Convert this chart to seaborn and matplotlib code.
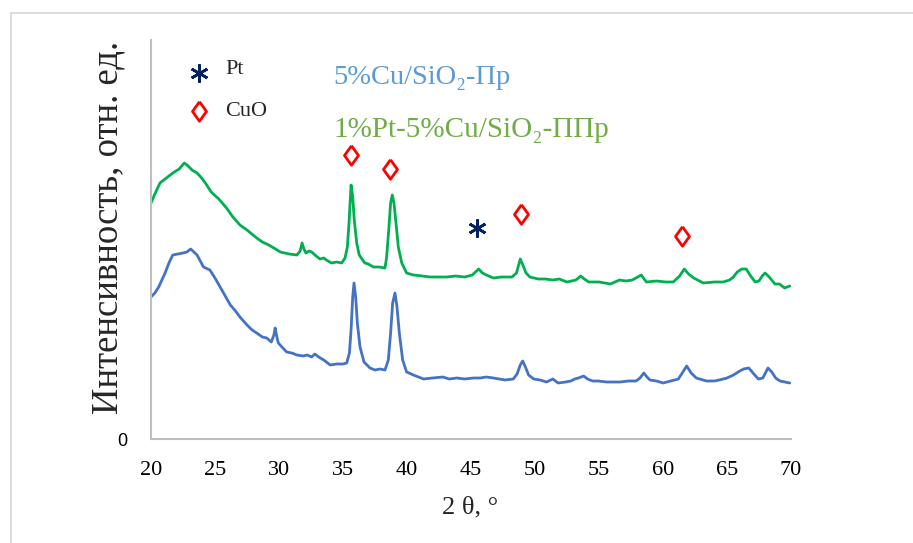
import matplotlib
matplotlib.use("Agg")
import matplotlib.pyplot as plt
import seaborn as sns
import pandas as pd
from matplotlib.patches import Rectangle
from matplotlib.lines import Line2D

# XRD pattern of 1%Pt-5%Cu/SiO2-ППр (upper curve)
two_theta_pt_cu = [
    20.0, 20.3, 20.7, 21.2, 21.7, 22.2, 22.6, 22.9, 23.2, 23.6, 23.96, 24.3, 24.7,
    25.3, 25.9, 26.4, 26.95, 27.5, 28.26, 28.7, 29.2, 29.6, 30.1, 30.8, 31.4,
    31.65, 31.8, 31.95, 32.1, 32.35, 32.55, 32.9, 33.2, 33.5, 33.7, 34.1, 34.5,
    34.9, 35.16, 35.34, 35.47, 35.63, 35.76, 35.88, 36.07, 36.27, 36.54, 36.7,
    36.98, 37.37, 37.8, 38.28, 38.41, 38.59, 38.72, 38.85, 38.98, 39.14, 39.32,
    39.59, 39.97, 40.5, 41.2, 41.8, 42.5, 43.1, 43.8, 44.5, 45.1, 45.6, 45.9,
    46.2, 46.75, 47.4, 48.2, 48.55, 48.85, 49.05, 49.3, 49.6, 50.25, 50.8, 51.4,
    51.9, 52.5, 53.2, 53.57, 53.85, 54.2, 55.0, 55.9, 56.6, 57.1, 57.6, 58.3,
    58.7, 59.5, 60.2, 60.8, 61.3, 61.66, 62.0, 62.4, 63.15, 64.0, 64.7, 65.2,
    65.5, 65.8, 66.15, 66.5, 66.85, 67.2, 67.5, 67.75, 67.97, 68.3, 68.75, 69.1,
    69.5, 69.9,
]
intensity_pt_cu = [
    236, 245, 256, 261, 266, 270, 276, 273, 269, 266, 261, 255, 247,
    240, 231, 222, 214, 209, 201, 197, 194, 191, 187, 185, 184,
    188, 196, 190, 186, 188, 187, 183, 180, 181, 179, 176, 177,
    176, 181, 192, 216, 254, 242, 219, 196, 184, 179, 176,
    175, 172, 172, 171, 182, 212, 236, 244, 236, 216, 192,
    176, 166, 164, 163, 162, 162, 162, 163, 162, 164, 170, 166,
    164, 161, 162, 162, 166, 180, 174, 166, 162, 160, 160, 159,
    160, 157, 159, 163, 160, 157, 157, 155, 159, 158, 159, 164,
    157, 158, 157, 157, 163, 170, 165, 161, 156, 157, 157, 159,
    162, 167, 170, 170, 163, 157, 158, 163, 166, 162, 155, 155,
    151, 153,
]

# XRD pattern of 5%Cu/SiO2-Пр (lower curve)
two_theta_cu = [
    20.0, 20.3, 20.6, 21.1, 21.4, 21.7, 22.1, 22.5, 22.8, 23.1, 23.35, 23.6, 24.1,
    24.6, 25.0, 25.4, 25.8, 26.2, 26.6, 26.95, 27.5, 27.9, 28.26, 28.7, 29.04,
    29.4, 29.6, 29.7, 29.85, 29.95, 30.3, 30.6, 31.0, 31.4, 31.9, 32.2, 32.55,
    32.8, 33.1, 33.5, 34.0, 34.5, 35.0, 35.29, 35.5, 35.63, 35.76, 35.86, 35.99,
    36.12, 36.33, 36.64, 37.11, 37.5, 37.9, 38.28, 38.54, 38.72, 38.88, 39.06,
    39.22, 39.4, 39.66, 39.97, 40.5, 41.3, 42.0, 42.8, 43.3, 43.9, 44.5, 45.2,
    45.7, 46.2, 46.75, 47.2, 47.66, 48.3, 48.6, 48.85, 49.04, 49.25, 49.5, 49.9,
    50.4, 50.9, 51.4, 51.8, 52.4, 52.8, 53.1, 53.4, 53.8, 54.1, 54.5, 54.95,
    55.6, 56.1, 56.64, 57.3, 57.9, 58.2, 58.5, 58.75, 58.98, 59.5, 60.0, 60.6,
    61.2, 61.5, 61.85, 62.2, 62.6, 63.4, 64.0, 64.4, 65.0, 65.5, 66.0, 66.3,
    66.7, 67.1, 67.45, 67.8, 68.0, 68.2, 68.5, 68.8, 69.14, 69.5, 69.9,
]
intensity_cu = [
    142, 146, 152, 166, 176, 184, 185, 186, 187, 190, 187, 184, 172,
    169, 161, 152, 143, 134, 128, 122, 114, 109, 106, 102, 101,
    97, 104, 111, 101, 96, 91, 87, 86, 84, 83, 84, 82,
    85, 82, 79, 74, 75, 75, 76, 86, 109, 142, 156, 142,
    116, 92, 77, 71, 69, 70, 69, 79, 106, 136, 146,
    132, 106, 79, 67, 64, 60, 61, 62, 60, 61, 60, 61,
    61, 62, 61, 60, 59, 60, 65, 74, 78, 72, 64, 60,
    59, 57, 60, 56, 57, 58, 60, 61, 63, 60, 58, 58,
    57, 57, 57, 58, 58, 61, 66, 62, 59, 58, 56, 58,
    60, 66, 73, 66, 61, 58, 58, 59, 61, 64, 68, 70,
    71, 65, 60, 61, 66, 71, 67, 61, 58, 57, 56,
]

# Phase markers
pt_marks_x = [45.45]
pt_marks_y = [211]
cuo_marks_x = [35.6, 38.7, 48.9, 61.5]
cuo_marks_y = [284, 270, 225, 203]

x_ticks = [20, 25, 30, 35, 40, 45, 50, 55, 60, 65, 70]
series_names = ["1%Pt-5%Cu/SiO₂-ППр", "5%Cu/SiO₂-Пр"]

sns.set_theme(style="white")
serif = ["Liberation Serif", "DejaVu Serif"]

W, H = 913, 543
fig = plt.figure(figsize=(W / 100, H / 100), dpi=100)
fig.patch.set_facecolor("white")

# outer frame
fig.patches.append(Rectangle((10.5 / W, -0.01), 1.02, 1 - 12.5 / H + 0.01,
                             transform=fig.transFigure, fill=False,
                             edgecolor="#D9D9D9", linewidth=1.3))

ax = fig.add_axes([151 / W, 104 / H, 640 / W, 399 / H])
ax.set_facecolor("white")

df = pd.concat([
    pd.DataFrame({"two_theta": two_theta_pt_cu, "intensity": intensity_pt_cu,
                  "sample": series_names[0]}),
    pd.DataFrame({"two_theta": two_theta_cu, "intensity": intensity_cu,
                  "sample": series_names[1]}),
])
sns.lineplot(data=df, x="two_theta", y="intensity", hue="sample",
             palette={series_names[0]: "#00B050", series_names[1]: "#4472C4"},
             estimator=None, sort=False, linewidth=2.0, legend=False, ax=ax)

diamond = [(0, 1), (0.72, 0), (0, -1), (-0.72, 0), (0, 1)]
star_style = dict(linestyle="none", marker=(6, 2, 0), markersize=13,
                  markeredgecolor="#002060", markeredgewidth=1.9)
diamond_style = dict(linestyle="none", marker=diamond, markersize=14,
                     markerfacecolor="white", markeredgecolor="#FF0000",
                     markeredgewidth=2.0)
ax.plot(cuo_marks_x, cuo_marks_y, **diamond_style)
ax.plot(pt_marks_x, pt_marks_y, **star_style)

ax.set_xlim(20, 70)
ax.set_ylim(0, 399)
ax.set_xticks(x_ticks)
ax.set_xticklabels([str(t) for t in x_ticks], fontfamily=serif, fontsize=16)
ax.set_yticks([0])
ax.set_yticklabels(["0"], fontfamily=["Liberation Sans", "DejaVu Sans"], fontsize=13)
ax.tick_params(axis="x", length=0, pad=16, colors="#000000")
ax.tick_params(axis="y", length=0, pad=17, colors="#000000")
for side in ["top", "right"]:
    ax.spines[side].set_visible(False)
for side in ["left", "bottom"]:
    ax.spines[side].set_color("#BFBFBF")
    ax.spines[side].set_linewidth(1.5)
ax.set_xlabel("")
ax.set_ylabel("")

# axis titles
fig.text(470 / W, 1 - 507 / H, "2 θ, °", ha="center", va="center",
         fontfamily=serif, fontsize=19)
fig.text(108 / W, 1 - 227 / H, "Интенсивность, отн. ед.", ha="center",
         va="center", rotation=90, fontfamily=serif, fontsize=26.5)

# marker key
fig.add_artist(Line2D([199 / W], [1 - 73 / H], transform=fig.transFigure,
                      **star_style))
fig.add_artist(Line2D([199 / W], [1 - 111 / H], transform=fig.transFigure,
                      **diamond_style))
fig.text(225 / W, 1 - 70 / H, "Pt", ha="left", va="center", fontfamily=serif,
         fontsize=16)
fig.text(225 / W, 1 - 111 / H, "CuO", ha="left", va="center", fontfamily=serif,
         fontsize=16)

# sample names
fig.text(333 / W, 1 - 77 / H, series_names[1], ha="left", va="center",
         fontfamily=serif, fontsize=20.5, color="#5B9BD5")
fig.text(333 / W, 1 - 130 / H, series_names[0], ha="left", va="center",
         fontfamily=serif, fontsize=21, color="#70AD47")

fig.savefig("out.png", dpi=100, facecolor="white")
